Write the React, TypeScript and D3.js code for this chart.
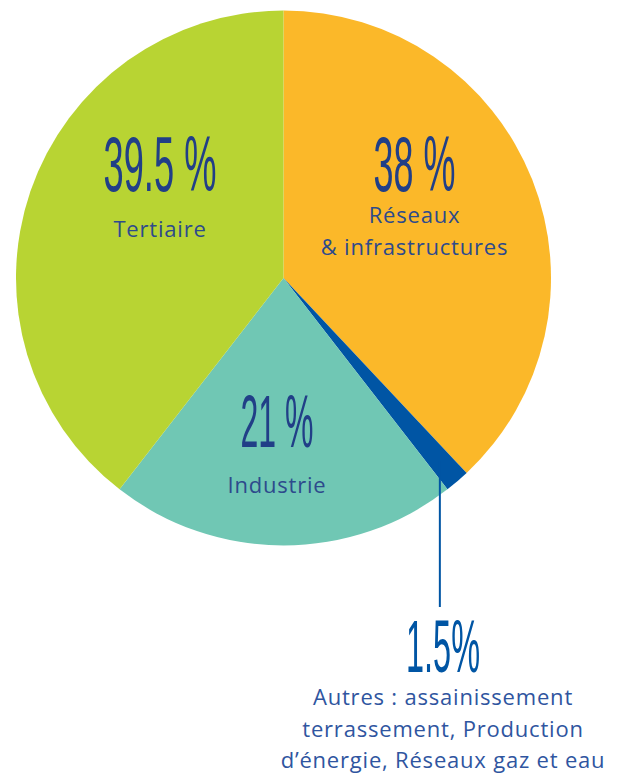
import React from "react";
import * as d3 from "d3";

// share of activity by sector, clockwise from 12 o'clock
const sectors = ["Réseaux & infrastructures", "Autres", "Industrie", "Tertiaire"];
const shares = [38, 1.5, 21, 39.5];
const valueLabels = ["38 %", "1.5%", "21 %", "39.5 %"];
const nameLines = [
    ["Réseaux", "& infrastructures"],
    ["Autres : assainissement", "terrassement, Production", "d’énergie, Réseaux gaz et eau"],
    ["Industrie"],
    ["Tertiaire"],
];

const sliceColors = ["#FBB829", "#0055A4", "#70C7B4", "#B8D433"];

const width = 622;
const height = 773;
const cx = 283.5;
const cy = 278;
const radius = 267.5;

// where each label block sits (number centre x, number baseline, number size / ink width, name baseline)
const layout = [
    { x: 414.5, numY: 191, numSize: 78, numW: 82, nameY: 223, numColor: "#213F87", nameColor: "#2D4A8C" },
    { x: 443, numY: 672, numSize: 75, numW: 74, nameY: 705, numColor: "#0055A4", nameColor: "#2F55A0" },
    { x: 277, numY: 447, numSize: 75, numW: 73, nameY: 493, numColor: "#213F87", nameColor: "#2D4A8C" },
    { x: 160, numY: 191, numSize: 78, numW: 113, nameY: 237, numColor: "#213F87", nameColor: "#2D4A8C" },
];

const App: React.FC = () => {
    const pie = d3.pie<number>().sort(null).value((d) => d);
    const arcs = pie(shares);
    const arc = d3.arc<d3.PieArcDatum<number>>().innerRadius(0).outerRadius(radius);

    // leader line for the small "Autres" slice, starting inside the slice
    const small = arcs[1];
    const mid = (small.startAngle + small.endAngle) / 2;
    const lineX = cx + radius * 0.9 * Math.sin(mid);
    const lineY = cy - radius * 0.9 * Math.cos(mid);

    return (
        <div style={{ position: "absolute", left: 0, top: 0 }}>
            <svg width={width} height={height} viewBox={`0 0 ${width} ${height}`}>
                <rect width={width} height={height} fill="#ffffff" />
                <g transform={`translate(${cx},${cy})`}>
                    {arcs.map((a, i) => (
                        <path key={sectors[i]} d={arc(a) || ""} fill={sliceColors[i]} />
                    ))}
                </g>
                <line x1={lineX} y1={lineY} x2={lineX} y2={607} stroke="#0055A4" strokeWidth={2} />
                {layout.map((l, i) => (
                    <g key={sectors[i]}>
                        <text
                            x={l.x}
                            y={l.numY}
                            textAnchor="middle"
                            fontFamily="'Liberation Sans Narrow', 'Liberation Sans', Arial, sans-serif"
                            fontSize={l.numSize}
                            textLength={l.numW}
                            lengthAdjust="spacingAndGlyphs"
                            fill={l.numColor}
                        >
                            {valueLabels[i]}
                        </text>
                        {nameLines[i].map((t, j) => (
                            <text
                                key={t}
                                x={l.x}
                                y={l.nameY + j * 31.5}
                                textAnchor="middle"
                                fontFamily="'Open Sans', sans-serif"
                                fontSize={22}
                                letterSpacing={0.8}
                                fill={l.nameColor}
                            >
                                {t}
                            </text>
                        ))}
                    </g>
                ))}
            </svg>
        </div>
    );
};

export default App;
